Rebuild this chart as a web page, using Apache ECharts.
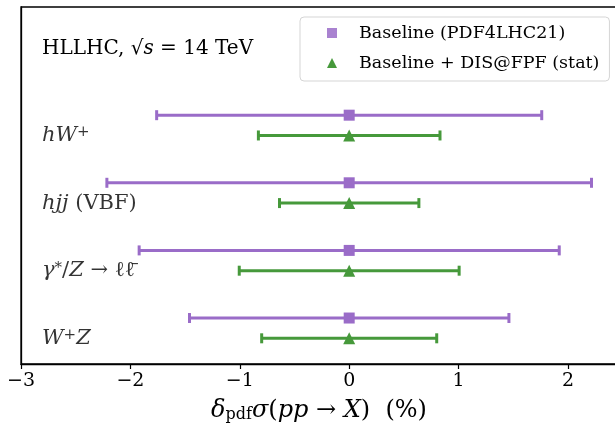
<!DOCTYPE html>
<html><head><meta charset="utf-8">
<script src="https://cdn.jsdelivr.net/npm/echarts@6/dist/echarts.min.js"></script>
<style>html,body{margin:0;padding:0;background:#fff}#c{width:615px;height:426px}</style>
</head><body><div id="c"></div>
<script>
// ---- data ----
const processes = ['hW+', 'hjj (VBF)', 'γ*/Z → ℓℓ̄', 'W+Z'];
const positions = [0, 1, 2, 3];
const baselineCentral = [0, 0, 0, 0];
const baselineErr = [1.76, 2.215, 1.92, 1.46];
const fpfCentral = [0, 0, 0, 0];
const fpfErr = [0.83, 0.637, 1.005, 0.80];
const xTicks = [-3, -2, -1, 0, 1, 2];
const seriesNames = ['Baseline (PDF4LHC21)', 'Baseline + DIS@FPF (stat)'];
const plotTitle = 'HLLHC, √s = 14 TeV';
const xTitle = 'δpdf σ(pp → X) (%)';

// ---- styling ----
const PURPLE = '#9a6cc8';
const GREEN = '#46993b';
const SERIF = '"DejaVu Serif", "Liberation Serif", serif';
const OFF = 0.3;

const richLabels = [
  '{i|hW}{sup|+}',
  '{i|hjj}{r| (VBF)}',
  '{i|γ}{sup|*}{r|/}{i|Z}{r| → ℓℓ\u0304}',
  '{i|W}{sup|+}{i|Z}'
];
function mkRich(fs, sfs) {
  return {
    r: {fontFamily: SERIF, fontSize: fs, color: '#000', fontWeight: 'normal'},
    i: {fontFamily: SERIF, fontSize: fs, fontStyle: 'italic', color: '#000', fontWeight: 'normal'},
    sup: {fontFamily: SERIF, fontSize: sfs, color: '#000', verticalAlign: 'top', fontWeight: 'normal'},
    sub: {fontFamily: SERIF, fontSize: sfs, color: '#000', verticalAlign: 'bottom', fontWeight: 'normal'}
  };
}

function errRender(params, api) {
  const y = api.value(0), lo = api.value(1), hi = api.value(2);
  const p1 = api.coord([lo, y]), p2 = api.coord([hi, y]);
  const cap = 5;
  const style = {stroke: api.visual('color'), lineWidth: 3};
  return {type: 'group', children: [
    {type: 'line', shape: {x1: p1[0], y1: p1[1], x2: p2[0], y2: p2[1]}, style: style},
    {type: 'line', shape: {x1: p1[0], y1: p1[1] - cap, x2: p1[0], y2: p1[1] + cap}, style: style},
    {type: 'line', shape: {x1: p2[0], y1: p2[1] - cap, x2: p2[0], y2: p2[1] + cap}, style: style}
  ]};
}

const baseErrData = positions.map((p, i) => [p, baselineCentral[i] - baselineErr[i], baselineCentral[i] + baselineErr[i]]);
const fpfErrData = positions.map((p, i) => [p + OFF, fpfCentral[i] - fpfErr[i], fpfCentral[i] + fpfErr[i]]);
const baseMarks = positions.map((p, i) => [baselineCentral[i], p]);
const fpfMarks = positions.map((p, i) => [fpfCentral[i], p + OFF]);
const labelData = positions.map((p, i) => ({value: [xTicks[0], p + OFF], name: processes[i]}));

const chart = echarts.init(document.getElementById('c'), null, {renderer: 'canvas'});
chart.setOption({
  animation: false,
  backgroundColor: '#fff',
  title: {
    text: '{r|HLLHC, √}{i|s}{r| = 14 TeV}',
    left: 37, top: 34,
    textStyle: {fontWeight: 'normal', rich: mkRich(20, 14)}
  },
  legend: {
    orient: 'vertical', left: 300, top: 17,
    data: [
      {name: seriesNames[0], icon: 'rect', itemStyle: {color: PURPLE, opacity: 0.85}},
      {name: seriesNames[1], icon: 'triangle', itemStyle: {color: GREEN}}
    ],
    itemWidth: 10, itemHeight: 10, itemGap: 12,
    textStyle: {fontFamily: SERIF, fontSize: 17.5, color: '#000', padding: [0, 0, 0, 17]},
    borderColor: '#d5d5d5', borderWidth: 1, borderRadius: 4,
    padding: [7, 10, 9, 27], backgroundColor: '#fff'
  },
  grid: {left: 21, right: -2, top: 7, bottom: 62, show: true, borderColor: '#000', borderWidth: 1.3,
         containLabel: false, outerBoundsMode: 'none'},
  xAxis: {
    type: 'value', min: -3, max: 2.448, interval: 1,
    axisLine: {show: true, onZero: false, lineStyle: {color: '#000', width: 1.3}},
    axisTick: {show: true, length: 5, lineStyle: {color: '#000', width: 1.2}},
    splitLine: {show: false},
    axisLabel: {
      fontFamily: SERIF, fontSize: 19, color: '#000', margin: 8, showMaxLabel: false,
      formatter: v => (xTicks.indexOf(v) >= 0 ? String(v).replace('-', '\u2212') : '')
    },
    name: '{i|δ}{sub|pdf}{i|σ}{r|(}{i|pp}{r| → }{i|X}{r|)  (%)}',
    nameLocation: 'middle', nameGap: 35,
    nameTextStyle: {rich: mkRich(24, 16)}
  },
  yAxis: {
    type: 'value', inverse: true, min: -1.6, max: 3.68,
    axisLine: {show: true, onZero: false, lineStyle: {color: '#000', width: 1.3}},
    axisTick: {show: false}, axisLabel: {show: false}, splitLine: {show: false}
  },
  series: [
    {type: 'custom', name: 'err0', renderItem: errRender, data: baseErrData,
     encode: {x: [1, 2], y: 0}, itemStyle: {color: PURPLE}, z: 2},
    {type: 'custom', name: 'err1', renderItem: errRender, data: fpfErrData,
     encode: {x: [1, 2], y: 0}, itemStyle: {color: GREEN}, z: 2},
    {type: 'scatter', name: seriesNames[0], data: baseMarks, symbol: 'rect', symbolSize: 11,
     itemStyle: {color: PURPLE, opacity: 1}, z: 3},
    {type: 'scatter', name: seriesNames[1], data: fpfMarks, symbol: 'triangle', symbolSize: 12,
     itemStyle: {color: GREEN, opacity: 1}, z: 3},
    {type: 'scatter', name: 'labels', data: labelData, symbolSize: 0, silent: true,
     label: {show: true, position: 'right', distance: 21, color: '#000',
       formatter: p => richLabels[p.dataIndex], rich: mkRich(21, 15)}, z: 4}
  ]
});
</script></body></html>
